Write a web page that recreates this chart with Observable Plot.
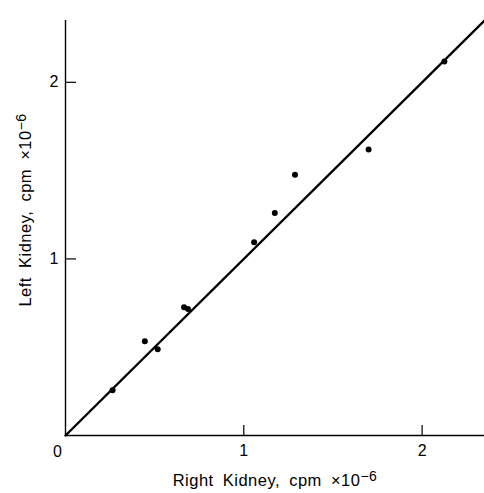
<!DOCTYPE html>
<html>
<head>
<meta charset="utf-8">
<script src="https://cdn.jsdelivr.net/npm/d3@7"></script>
<script src="https://cdn.jsdelivr.net/npm/@observablehq/plot@0.6"></script>
<style>
html, body { margin: 0; padding: 0; background: #fff; }
svg { display: block; }
</style>
</head>
<body>
<div id="chart"></div>
<script>
// Right kidney counts (x) and left kidney counts (y), cpm ×10^-6
const rightKidney = [0.264, 0.445, 0.517, 0.665, 0.687, 1.058, 1.174, 1.287, 1.70, 2.125];
const leftKidney  = [0.256, 0.534, 0.489, 0.726, 0.716, 1.095, 1.26, 1.477, 1.619, 2.118];
// Line of identity
const lineX = [0, 2.35];
const lineY = [0, 2.35];
const xTicks = [1, 2];
const yTicks = [1, 2];
const originLabel = ["0"];
const xLabelMain = "Right Kidney, cpm ×10";
const yLabelMain = "Left Kidney, cpm ×10";
const exponent = "\u22126";
const xLabel = [xLabelMain + exponent];
const yLabel = [yLabelMain + exponent];

const points = rightKidney.map((x, i) => ({x, y: leftKidney[i]}));
const line = lineX.map((x, i) => ({x, y: lineY[i]}));

const chart = Plot.plot({
  width: 484,
  height: 493,
  marginLeft: 65,
  marginRight: 0,
  marginTop: 20,
  marginBottom: 58,
  style: {fontFamily: "'Liberation Sans', Arial, sans-serif", fontSize: "16px", color: "#000", background: "#fff"},
  x: {domain: [0, 2.35]},
  y: {domain: [0, 2.35]},
  marks: [
    Plot.axisX({ticks: xTicks, tickSize: 0, tickPadding: 9, label: null, fontSize: 16, tickFormat: d => String(d)}),
    Plot.axisY({ticks: yTicks, tickSize: 0, tickPadding: 7, label: null, fontSize: 16, tickFormat: d => String(d)}),
    Plot.ruleY([0], {stroke: "#000", strokeWidth: 1.4}),
    Plot.ruleX([0], {stroke: "#000", strokeWidth: 1.4}),
    Plot.tickX(xTicks, {x: d => d, insetTop: 405, stroke: "#000", strokeWidth: 1.2}),
    Plot.tickY(yTicks, {y: d => d, insetRight: 408, stroke: "#000", strokeWidth: 1.2}),
    Plot.line(line, {x: "x", y: "y", stroke: "#000", strokeWidth: 2.4}),
    Plot.dot(points, {x: "x", y: "y", r: 3, fill: "#000", stroke: "none"}),
    Plot.text(originLabel, {x: 0, y: 0, text: d => d, dx: -8, dy: 16, fontSize: 16, fill: "#000"}),
    Plot.text(xLabel, {frameAnchor: "bottom", text: d => d, textAnchor: "middle", lineAnchor: "middle", dy: 45, fontSize: 16.5, fill: "#000"}),
    Plot.text(yLabel, {frameAnchor: "left", text: d => d, textAnchor: "middle", lineAnchor: "middle", rotate: -90, dx: -40, dy: -18, fontSize: 16.5, fill: "#000"})
  ]
});

// Render the exponent as a raised superscript and widen word gaps
d3.select(chart).selectAll("text").each(function() {
  const t = this.textContent;
  let main = null;
  if (t === xLabel[0]) main = xLabelMain;
  if (t === yLabel[0]) main = yLabelMain;
  if (main) {
    const sel = d3.select(this);
    sel.text(null);
    sel.style("word-spacing", "4px").style("letter-spacing", "0.5px");
    sel.append("tspan").text(main);
    sel.append("tspan").attr("dy", "-5").attr("font-size", 14).text(exponent);
  }
});
document.getElementById("chart").appendChild(chart);
</script>
</body>
</html>
